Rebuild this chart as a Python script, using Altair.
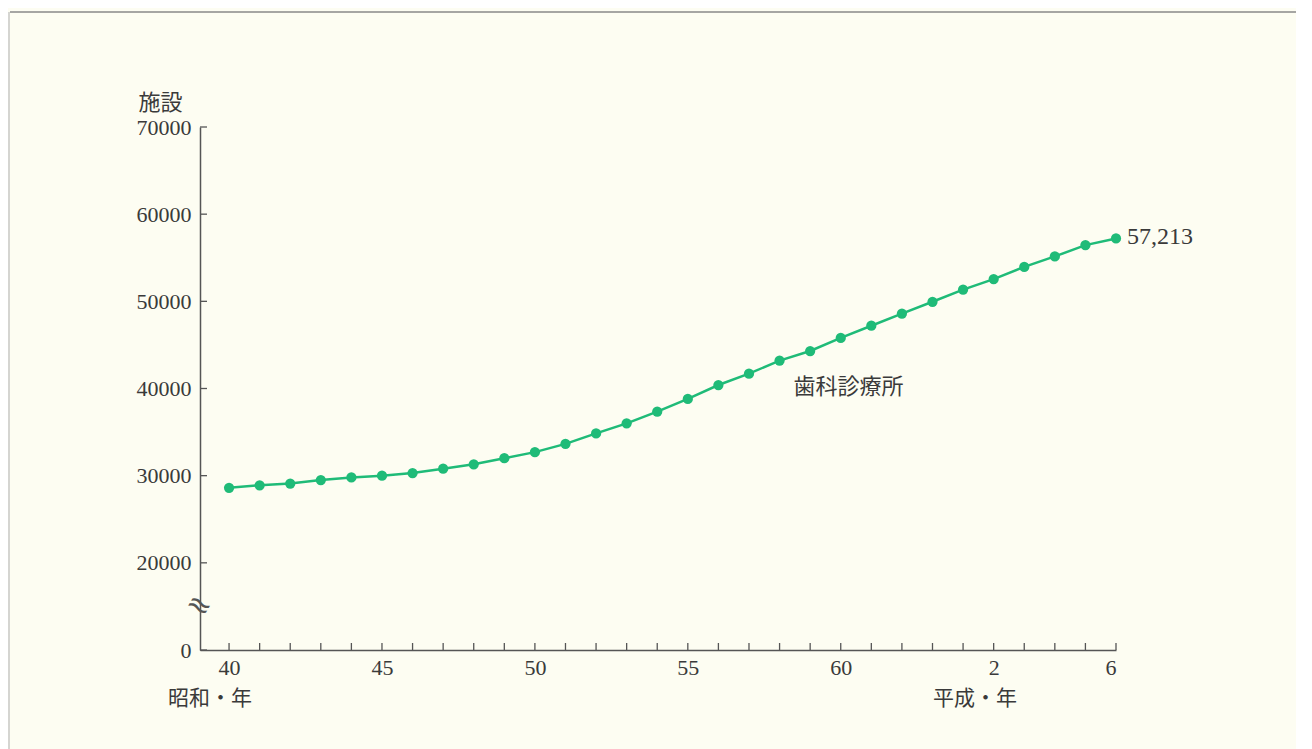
import altair as alt
import pandas as pd

# Showa years 40..69 (69 = Heisei 6)
years = list(range(40, 70))
clinics = [28600, 28900, 29100, 29500, 29800, 30000, 30300, 30800, 31300, 32000,
           32700, 33650, 34850, 36000, 37350, 38800, 40400, 41700, 43200, 44300,
           45800, 47200, 48600, 49950, 51350, 52550, 53950, 55150, 56450, 57213]
x_tick_values = [40, 45, 50, 55, 60, 65, 69]
y_tick_values = [10000, 20000, 30000, 40000, 50000, 60000, 70000]
series_label = "歯科診療所"
end_label = "57,213"

GREEN = "#1fbb78"
INK = "#3a3a3a"
SERIF = "'Liberation Serif', 'Noto Sans CJK JP'"
CJK = "'Noto Sans CJK JP'"

df = pd.DataFrame({"year": years, "value": clinics})
df_last = df.tail(1).assign(label=end_label)
df_ticks = pd.DataFrame({"year": years})
df_yticks = pd.DataFrame({"v": y_tick_values})
df_series = pd.DataFrame({"year": [60.25], "value": [40150], "label": [series_label]})

W, H = 916, 523
xscale = alt.Scale(domain=[39.05, 69], nice=False, zero=False)
yscale = alt.Scale(domain=[10000, 70000], nice=False, zero=False)

base = alt.Chart(df)

line = base.mark_line(color=GREEN, strokeWidth=2.5).encode(
    x=alt.X("year:Q", scale=xscale,
            axis=alt.Axis(values=x_tick_values, tickSize=0, grid=False,
                          labelExpr="datum.value >= 64 ? datum.value - 63 : datum.value",
                          labelFont=SERIF, labelFontSize=22, labelColor=INK,
                          labelPadding=7, domainColor="#555", domainWidth=1.5,
                          title=None)),
    y=alt.Y("value:Q", scale=yscale,
            axis=alt.Axis(values=y_tick_values, tickSize=0, grid=False, format="d",
                          labelExpr="datum.value == 10000 ? '0' : datum.label",
                          labelFont=SERIF, labelFontSize=22, labelColor=INK,
                          labelPadding=9, domainColor="#555", domainWidth=1.5,
                          title="施設", titleAngle=0, titleX=-18, titleY=-13,
                          titleAlign="right", titleBaseline="bottom",
                          titleFont=CJK, titleFontSize=22, titleFontWeight="normal",
                          titleColor=INK)),
)

points = base.mark_circle(color=GREEN, opacity=1, size=105).encode(
    x=alt.X("year:Q", scale=xscale),
    y=alt.Y("value:Q", scale=yscale),
)

xticks = alt.Chart(df_ticks).mark_rule(color="#555", strokeWidth=1.3).encode(
    x=alt.X("year:Q", scale=xscale),
    y=alt.value(H),
    y2=alt.value(H - 7),
)

yticks = alt.Chart(df_yticks).mark_rule(color="#555", strokeWidth=1.3).encode(
    y=alt.Y("v:Q", scale=yscale),
    x=alt.value(0),
    x2=alt.value(7),
)

brk = alt.Chart(pd.DataFrame({"t": ["≈"]})).mark_text(
    font="DejaVu Sans", fontSize=30, color="#555", angle=30, align="center", baseline="middle"
).encode(text="t:N", x=alt.value(-1), y=alt.value(H - 44))

end_txt = alt.Chart(df_last).mark_text(
    font=SERIF, fontSize=24, color=INK, align="left", baseline="middle", dx=11, dy=-1
).encode(x=alt.X("year:Q", scale=xscale), y=alt.Y("value:Q", scale=yscale), text="label:N")

series_txt = alt.Chart(df_series).mark_text(
    font=CJK, fontSize=22, color=INK, align="center", baseline="middle"
).encode(x=alt.X("year:Q", scale=xscale), y=alt.Y("value:Q", scale=yscale), text="label:N")

era = alt.Chart(pd.DataFrame({"t": ["昭和・年", "平成・年"], "px": [10, 775]})).mark_text(
    font=CJK, fontSize=21, color=INK, align="center", baseline="middle"
).encode(text="t:N", x=alt.X("px:Q", scale=None), y=alt.value(H + 49))

frame = alt.Chart(pd.DataFrame({"a": [0]})).mark_rule(color="#888", strokeWidth=1.5).encode(
    x=alt.value(-190), x2=alt.value(W + 190), y=alt.value(-115)
)
frame_l = alt.Chart(pd.DataFrame({"a": [0]})).mark_rule(color="#bbb", strokeWidth=1.2).encode(
    x=alt.value(-191), y=alt.value(-115), y2=alt.value(H + 110)
)

chart = alt.layer(frame, frame_l, xticks, yticks, line, points, brk, end_txt, series_txt, era).properties(
    width=W, height=H,
    autosize=alt.AutoSizeParams(type="none"),
    padding={"left": 192, "top": 119, "right": 180, "bottom": 110},
).configure(background="#fdfdf2").configure_view(stroke=None)

chart.save("out.html", embed_options={"renderer": "svg", "actions": False})
